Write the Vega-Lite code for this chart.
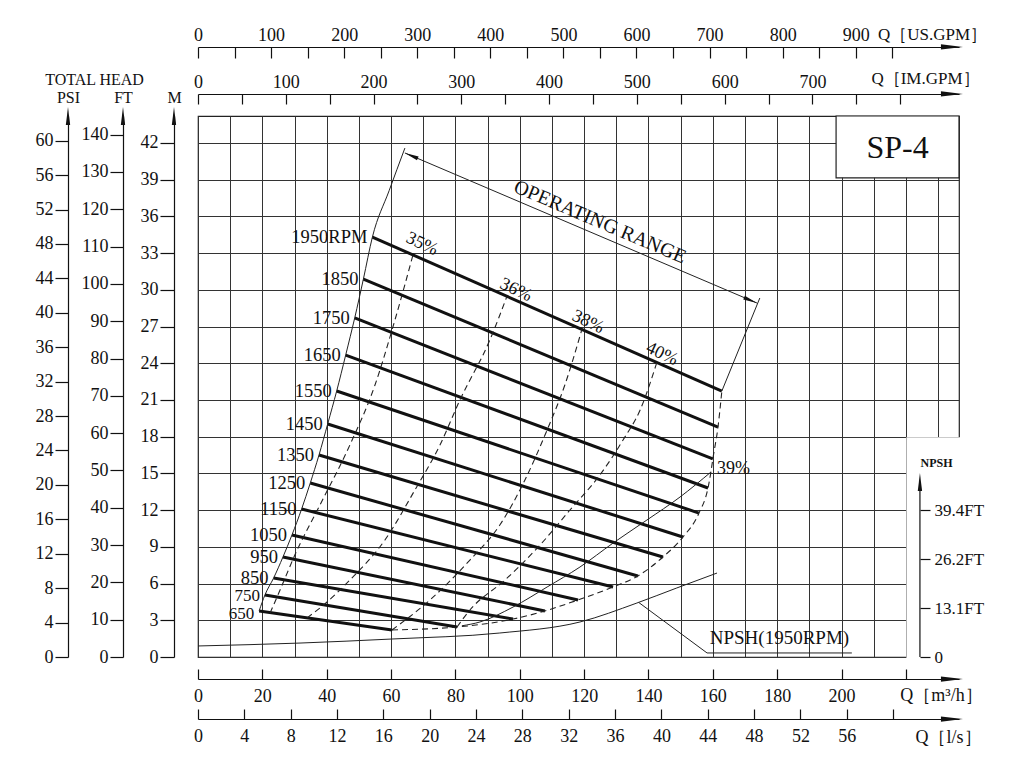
{
  "$schema": "https://vega.github.io/schema/vega-lite/v6.json",
  "width": 761,
  "height": 541,
  "autosize": {"type": "none"},
  "padding": {"left": 198, "top": 116, "right": 65, "bottom": 126},
  "background": "white",
  "config": {
    "view": {"stroke": "#222", "strokeWidth": 1.2},
    "axis": {"labelFont": "Liberation Serif", "titleFont": "Liberation Serif", "labelFontSize": 18, "titleFontSize": 16, "titleFontWeight": "normal", "labelColor": "#111", "titleColor": "#111", "domainColor": "#111", "tickColor": "#111", "domainWidth": 1.2, "tickWidth": 1.2, "grid": false, "labelOverlap": false, "labelFlush": false, "labelBound": false},
    "text": {"font": "Liberation Serif", "color": "#111"}
  },
  "datasets": {
    "speed": [
      {"rpm": "1950", "Q": 54.2, "H": 34.31}, {"rpm": "1950", "Q": 162.8, "H": 21.73},
      {"rpm": "1850", "Q": 51.4, "H": 30.88}, {"rpm": "1850", "Q": 161.6, "H": 18.79},
      {"rpm": "1750", "Q": 48.7, "H": 27.70}, {"rpm": "1750", "Q": 160.0, "H": 16.18},
      {"rpm": "1650", "Q": 45.9, "H": 24.67}, {"rpm": "1650", "Q": 158.5, "H": 13.81},
      {"rpm": "1550", "Q": 43.1, "H": 21.73}, {"rpm": "1550", "Q": 155.7, "H": 11.76},
      {"rpm": "1450", "Q": 40.3, "H": 19.04}, {"rpm": "1450", "Q": 150.7, "H": 9.80},
      {"rpm": "1350", "Q": 37.6, "H": 16.50}, {"rpm": "1350", "Q": 144.5, "H": 8.17},
      {"rpm": "1250", "Q": 34.9, "H": 14.22}, {"rpm": "1250", "Q": 136.7, "H": 6.62},
      {"rpm": "1150", "Q": 32.2, "H": 12.09}, {"rpm": "1150", "Q": 129.0, "H": 5.72},
      {"rpm": "1050", "Q": 29.2, "H": 9.97}, {"rpm": "1050", "Q": 118.1, "H": 4.66},
      {"rpm": "950", "Q": 26.4, "H": 8.17}, {"rpm": "950", "Q": 107.8, "H": 3.76},
      {"rpm": "850", "Q": 23.5, "H": 6.45}, {"rpm": "850", "Q": 97.9, "H": 3.10},
      {"rpm": "750", "Q": 20.8, "H": 5.07}, {"rpm": "750", "Q": 80.5, "H": 2.45},
      {"rpm": "650", "Q": 19.0, "H": 3.76}, {"rpm": "650", "Q": 60.3, "H": 2.21}
    ],
    "rpmLabels": [
      {"t": "1950RPM", "Q": 54.2, "H": 34.31}, {"t": "1850", "Q": 51.4, "H": 30.88},
      {"t": "1750", "Q": 48.7, "H": 27.70}, {"t": "1650", "Q": 45.9, "H": 24.67},
      {"t": "1550", "Q": 43.1, "H": 21.73}, {"t": "1450", "Q": 40.3, "H": 19.04},
      {"t": "1350", "Q": 37.6, "H": 16.50}, {"t": "1250", "Q": 34.9, "H": 14.22},
      {"t": "1150", "Q": 32.2, "H": 12.09}, {"t": "1050", "Q": 29.2, "H": 9.97},
      {"t": "950", "Q": 26.4, "H": 8.17}, {"t": "850", "Q": 23.5, "H": 6.45},
      {"t": "750", "Q": 20.8, "H": 5.07}, {"t": "650", "Q": 19.0, "H": 3.76}
    ],
    "eff": [
      {"c": "35", "Q": 22.4, "H": 3.59}, {"c": "35", "Q": 25.5, "H": 5.47}, {"c": "35", "Q": 30.1, "H": 8.33}, {"c": "35", "Q": 37.9, "H": 12.42}, {"c": "35", "Q": 47.2, "H": 17.32}, {"c": "35", "Q": 55.0, "H": 22.22}, {"c": "35", "Q": 61.2, "H": 27.53}, {"c": "35", "Q": 66.8, "H": 32.84},
      {"c": "36", "Q": 33.9, "H": 3.2}, {"c": "36", "Q": 37.9, "H": 4.0}, {"c": "36", "Q": 47.2, "H": 6.29}, {"c": "36", "Q": 58.1, "H": 9.56}, {"c": "36", "Q": 67.4, "H": 13.64}, {"c": "36", "Q": 75.2, "H": 17.32}, {"c": "36", "Q": 81.4, "H": 21.0}, {"c": "36", "Q": 90.7, "H": 25.9}, {"c": "36", "Q": 96.0, "H": 29.46},
      {"c": "38", "Q": 60.3, "H": 2.21}, {"c": "38", "Q": 72.1, "H": 4.66}, {"c": "38", "Q": 84.5, "H": 7.92}, {"c": "38", "Q": 93.8, "H": 10.78}, {"c": "38", "Q": 101.6, "H": 14.46}, {"c": "38", "Q": 108.5, "H": 18.55}, {"c": "38", "Q": 114.0, "H": 22.22}, {"c": "38", "Q": 119.3, "H": 26.76},
      {"c": "40", "Q": 80.5, "H": 2.45}, {"c": "40", "Q": 84.5, "H": 3.84}, {"c": "40", "Q": 95.4, "H": 6.29}, {"c": "40", "Q": 106.3, "H": 9.15}, {"c": "40", "Q": 115.6, "H": 12.01}, {"c": "40", "Q": 124.9, "H": 14.87}, {"c": "40", "Q": 132.1, "H": 17.73}, {"c": "40", "Q": 137.4, "H": 20.18}, {"c": "40", "Q": 142.6, "H": 24.07}
    ],
    "bound": [
      {"Q": 60.3, "H": 2.21}, {"Q": 80.5, "H": 2.45}, {"Q": 97.9, "H": 3.10}, {"Q": 107.8, "H": 3.76}, {"Q": 118.1, "H": 4.66}, {"Q": 129.0, "H": 5.72}, {"Q": 136.7, "H": 6.62}, {"Q": 144.5, "H": 8.17}, {"Q": 150.7, "H": 9.80}, {"Q": 155.7, "H": 11.76}, {"Q": 158.5, "H": 13.81}, {"Q": 159.4, "H": 15.11}, {"Q": 160.0, "H": 16.18}, {"Q": 161.6, "H": 18.79}, {"Q": 162.8, "H": 21.73}
    ],
    "thin": [
      {"c": "left", "Q": 19.0, "H": 3.76}, {"c": "left", "Q": 20.8, "H": 5.07}, {"c": "left", "Q": 23.5, "H": 6.45}, {"c": "left", "Q": 26.4, "H": 8.17}, {"c": "left", "Q": 29.2, "H": 9.97}, {"c": "left", "Q": 32.2, "H": 12.09}, {"c": "left", "Q": 34.9, "H": 14.22}, {"c": "left", "Q": 37.6, "H": 16.50}, {"c": "left", "Q": 40.3, "H": 19.04}, {"c": "left", "Q": 43.1, "H": 21.73}, {"c": "left", "Q": 45.9, "H": 24.67}, {"c": "left", "Q": 48.7, "H": 27.70}, {"c": "left", "Q": 51.4, "H": 30.88}, {"c": "left", "Q": 54.2, "H": 34.31}, {"c": "left", "Q": 59.4, "H": 38.1}, {"c": "left", "Q": 64.3, "H": 41.58},
      {"c": "npsh", "Q": 0, "H": 0.9}, {"c": "npsh", "Q": 31.7, "H": 1.14}, {"c": "npsh", "Q": 60.3, "H": 1.47}, {"c": "npsh", "Q": 93.8, "H": 1.96}, {"c": "npsh", "Q": 118.7, "H": 2.86}, {"c": "npsh", "Q": 136.4, "H": 4.41}, {"c": "npsh", "Q": 148.8, "H": 5.64}, {"c": "npsh", "Q": 161.3, "H": 6.86},
      {"c": "e39", "Q": 82.0, "H": 2.55}, {"c": "e39", "Q": 87.6, "H": 2.86}, {"c": "e39", "Q": 97.9, "H": 4.08}, {"c": "e39", "Q": 108.5, "H": 5.72}, {"c": "e39", "Q": 118.7, "H": 7.35}, {"c": "e39", "Q": 129.0, "H": 9.31}, {"c": "e39", "Q": 139.5, "H": 11.19}, {"c": "e39", "Q": 149.8, "H": 13.07}, {"c": "e39", "Q": 159.4, "H": 15.11}
    ],
    "thinLinear": [
      {"c": "rightext", "Q": 162.8, "H": 21.73}, {"c": "rightext", "Q": 174.6, "H": 29.33},
      {"c": "dim", "Q": 64.3, "H": 41.18}, {"c": "dim", "Q": 173.7, "H": 28.92},
      {"c": "leader", "Q": 137.0, "H": 4.45}, {"c": "leader", "Q": 158.2, "H": 0.33}, {"c": "leader", "Q": 203.2, "H": 0.33}
    ],
    "arrowsUp": [{"Q": -7.46, "H": 44.2}, {"Q": -23.31, "H": 44.2}, {"Q": -40.4, "H": 44.2}, {"Q": 224.36, "H": 14.3}],
    "arrowsRight": [{"Q": 234.3, "H": 49.84}, {"Q": 234.3, "H": 46.0}, {"Q": 234.3, "H": -1.8}, {"Q": 234.3, "H": -5.07}],
    "effLabels": [{"t": "35%", "Q": 69.6, "H": 33.74}, {"t": "36%", "Q": 98.8, "H": 29.98}, {"t": "38%", "Q": 121.2, "H": 27.37}, {"t": "40%", "Q": 144.2, "H": 24.75}]
  },
  "layer": [
    {
      "data": {"values": [{"gq": 0, "gh": 0}]},
      "mark": {"type": "point", "opacity": 0},
      "encoding": {
        "x": {"field": "gq", "type": "quantitative", "scale": {"domain": [0, 236.5], "nice": false, "zero": false},
          "axis": {"orient": "bottom", "values": [0,10,20,30,40,50,60,70,80,90,100,110,120,130,140,150,160,170,180,190,200,210,220,230], "grid": true, "gridColor": "#333", "gridWidth": 1, "gridOpacity": 1, "ticks": false, "labels": false, "domain": false, "title": null, "zindex": 0}},
        "y": {"field": "gh", "type": "quantitative", "scale": {"domain": [0, 44.2], "nice": false, "zero": false},
          "axis": {"orient": "left", "values": [0,3,6,9,12,15,18,21,24,27,30,33,36,39,42], "grid": true, "gridColor": "#333", "gridWidth": 1, "gridOpacity": 1, "ticks": false, "labels": false, "domain": false, "title": null, "zindex": 0}}
      }
    },
    {
      "data": {"values": [{"mq": 0, "mh": 0}]},
      "mark": {"type": "point", "opacity": 0},
      "encoding": {
        "x": {"field": "mq", "type": "quantitative", "scale": {"domain": [0, 236.5], "nice": false, "zero": false},
          "axis": {"orient": "bottom", "offset": 22, "values": [0,20,40,60,80,100,120,140,160,180,200,220], "labelExpr": "datum.value < 220 ? datum.label : ''", "tickSize": -10, "labelPadding": 18, "title": "Q［m³/h］", "titleX": 743, "titleY": 16, "titleAngle": 0, "titleAlign": "center", "titleBaseline": "middle", "titleFontSize": 18, "zindex": 0}},
        "y": {"field": "mh", "type": "quantitative", "scale": {"domain": [0, 44.2], "nice": false, "zero": false},
          "axis": {"orient": "left", "offset": 24, "values": [0,3,6,9,12,15,18,21,24,27,30,33,36,39,42], "tickSize": 14, "labelPadding": 2, "title": "M", "titleX": 0, "titleY": -19, "titleAngle": 0, "titleAlign": "center", "titleBaseline": "middle", "zindex": 0}}
      }
    },
    {
      "layer": [
        {
          "data": {"name": "speed"},
          "mark": {"type": "line", "strokeWidth": 3, "color": "#111"},
          "encoding": {
            "x": {"field": "Q", "type": "quantitative", "scale": {"domain": [0, 236.5], "nice": false, "zero": false}, "axis": null},
            "y": {"field": "H", "type": "quantitative", "scale": {"domain": [0, 44.2], "nice": false, "zero": false}, "axis": null},
            "detail": {"field": "rpm"}
          }
        },
        {
          "data": {"values": [{"Q": 220.15, "Q2": 237.3, "H": -0.4, "H2": 17.95}]},
          "mark": {"type": "rect", "fill": "white", "strokeWidth": 0},
          "encoding": {
            "x": {"field": "Q", "type": "quantitative", "axis": null},
            "x2": {"field": "Q2"},
            "y": {"field": "H", "type": "quantitative", "axis": null},
            "y2": {"field": "H2"}
          }
        },
        {
          "data": {"values": [{"Q": 198.3, "Q2": 236.5, "H": 39.15, "H2": 44.2}]},
          "mark": {"type": "rect", "fill": "white", "stroke": "#222", "strokeWidth": 1.2},
          "encoding": {
            "x": {"field": "Q", "type": "quantitative", "axis": null},
            "x2": {"field": "Q2"},
            "y": {"field": "H", "type": "quantitative", "axis": null},
            "y2": {"field": "H2"}
          }
        },
        {
          "data": {"values": [{"t": "SP-4", "Q": 217.4, "H": 41.6}]},
          "mark": {"type": "text", "fontSize": 32, "align": "center", "baseline": "middle"},
          "encoding": {
            "x": {"field": "Q", "type": "quantitative", "axis": null},
            "y": {"field": "H", "type": "quantitative", "axis": null},
            "text": {"field": "t"}
          }
        },
        {
          "data": {"name": "eff"},
          "mark": {"type": "line", "strokeWidth": 1.1, "strokeDash": [6, 4], "color": "#222", "interpolate": "monotone"},
          "encoding": {
            "x": {"field": "Q", "type": "quantitative", "axis": null},
            "y": {"field": "H", "type": "quantitative", "axis": null},
            "detail": {"field": "c"}
          }
        },
        {
          "data": {"name": "bound"},
          "mark": {"type": "line", "strokeWidth": 1.1, "strokeDash": [6, 4], "color": "#222", "interpolate": "monotone"},
          "encoding": {
            "x": {"field": "Q", "type": "quantitative", "axis": null},
            "y": {"field": "H", "type": "quantitative", "axis": null}
          }
        },
        {
          "data": {"name": "thin"},
          "mark": {"type": "line", "strokeWidth": 1, "color": "#222", "interpolate": "monotone"},
          "encoding": {
            "x": {"field": "Q", "type": "quantitative", "axis": null},
            "y": {"field": "H", "type": "quantitative", "axis": null},
            "detail": {"field": "c"}
          }
        },
        {
          "data": {"name": "thinLinear"},
          "mark": {"type": "line", "strokeWidth": 1, "color": "#222"},
          "encoding": {
            "x": {"field": "Q", "type": "quantitative", "axis": null},
            "y": {"field": "H", "type": "quantitative", "axis": null},
            "detail": {"field": "c"}
          }
        },
        {
          "data": {"values": [{"Q": 224.36, "H": 0, "H2": 13.6}]},
          "mark": {"type": "rule", "strokeWidth": 1.2, "color": "#111"},
          "encoding": {
            "x": {"field": "Q", "type": "quantitative", "axis": null},
            "y": {"field": "H", "type": "quantitative", "axis": null},
            "y2": {"field": "H2"}
          }
        },
        {
          "data": {"name": "arrowsUp"},
          "mark": {"type": "point", "shape": "M1,0L-1,-0.24L-1,0.24Z", "filled": true, "fill": "#111", "strokeWidth": 0, "size": 324, "angle": 270, "opacity": 1},
          "encoding": {
            "x": {"field": "Q", "type": "quantitative", "axis": null},
            "y": {"field": "H", "type": "quantitative", "axis": null}
          }
        },
        {
          "data": {"name": "arrowsRight"},
          "mark": {"type": "point", "shape": "M1,0L-1,-0.24L-1,0.24Z", "filled": true, "fill": "#111", "strokeWidth": 0, "size": 484, "angle": 0, "opacity": 1},
          "encoding": {
            "x": {"field": "Q", "type": "quantitative", "axis": null},
            "y": {"field": "H", "type": "quantitative", "axis": null}
          }
        },
        {
          "data": {"values": [{"Q": 171.7, "H": 29.14}]},
          "mark": {"type": "point", "shape": "M1,0L-1,-0.3L-1,0.3Z", "filled": true, "fill": "#111", "strokeWidth": 0, "size": 196, "angle": 23, "opacity": 1},
          "encoding": {
            "x": {"field": "Q", "type": "quantitative", "axis": null},
            "y": {"field": "H", "type": "quantitative", "axis": null}
          }
        },
        {
          "data": {"values": [{"Q": 66.3, "H": 40.96}]},
          "mark": {"type": "point", "shape": "M1,0L-1,-0.3L-1,0.3Z", "filled": true, "fill": "#111", "strokeWidth": 0, "size": 196, "angle": 203, "opacity": 1},
          "encoding": {
            "x": {"field": "Q", "type": "quantitative", "axis": null},
            "y": {"field": "H", "type": "quantitative", "axis": null}
          }
        },
        {
          "data": {"name": "rpmLabels"},
          "transform": [{"filter": "datum.t != '750' && datum.t != '650'"}],
          "mark": {"type": "text", "fontSize": 18.5, "align": "right", "baseline": "middle", "dx": -5},
          "encoding": {
            "x": {"field": "Q", "type": "quantitative", "axis": null},
            "y": {"field": "H", "type": "quantitative", "axis": null},
            "text": {"field": "t"}
          }
        },
        {
          "data": {"name": "rpmLabels"},
          "transform": [{"filter": "datum.t == '750'"}],
          "mark": {"type": "text", "fontSize": 17, "align": "right", "baseline": "middle", "dx": -5, "dy": 1},
          "encoding": {
            "x": {"field": "Q", "type": "quantitative", "axis": null},
            "y": {"field": "H", "type": "quantitative", "axis": null},
            "text": {"field": "t"}
          }
        },
        {
          "data": {"name": "rpmLabels"},
          "transform": [{"filter": "datum.t == '650'"}],
          "mark": {"type": "text", "fontSize": 17, "align": "right", "baseline": "middle", "dx": -5, "dy": 3},
          "encoding": {
            "x": {"field": "Q", "type": "quantitative", "axis": null},
            "y": {"field": "H", "type": "quantitative", "axis": null},
            "text": {"field": "t"}
          }
        },
        {
          "data": {"name": "effLabels"},
          "mark": {"type": "text", "fontSize": 18, "align": "center", "baseline": "middle", "angle": 25},
          "encoding": {
            "x": {"field": "Q", "type": "quantitative", "axis": null},
            "y": {"field": "H", "type": "quantitative", "axis": null},
            "text": {"field": "t"}
          }
        },
        {
          "data": {"values": [{"t": "39%", "Q": 161.3, "H": 15.36}]},
          "mark": {"type": "text", "fontSize": 18, "align": "left", "baseline": "middle"},
          "encoding": {
            "x": {"field": "Q", "type": "quantitative", "axis": null},
            "y": {"field": "H", "type": "quantitative", "axis": null},
            "text": {"field": "t"}
          }
        },
        {
          "data": {"values": [{"t": "OPERATING RANGE", "Q": 124.9, "H": 35.54}]},
          "mark": {"type": "text", "fontSize": 20, "align": "center", "baseline": "middle", "angle": 23},
          "encoding": {
            "x": {"field": "Q", "type": "quantitative", "axis": null},
            "y": {"field": "H", "type": "quantitative", "axis": null},
            "text": {"field": "t"}
          }
        },
        {
          "data": {"values": [{"t": "NPSH(1950RPM)", "Q": 180.7, "H": 1.55}]},
          "mark": {"type": "text", "fontSize": 19, "align": "center", "baseline": "middle"},
          "encoding": {
            "x": {"field": "Q", "type": "quantitative", "axis": null},
            "y": {"field": "H", "type": "quantitative", "axis": null},
            "text": {"field": "t"}
          }
        }
      ]
    },
    {
      "data": {"values": [{"ls": 0, "v": 0}]},
      "mark": {"type": "point", "opacity": 0},
      "encoding": {
        "x": {"field": "ls", "type": "quantitative", "scale": {"domain": [0, 65.69], "nice": false, "zero": false},
          "axis": {"orient": "bottom", "offset": 62, "values": [0,4,8,12,16,20,24,28,32,36,40,44,48,52,56,60], "labelExpr": "datum.value < 60 ? datum.label : ''", "tickSize": -10, "labelPadding": 18, "title": "Q［l/s］", "titleX": 750, "titleY": 18, "titleAngle": 0, "titleAlign": "center", "titleBaseline": "middle", "titleFontSize": 18, "zindex": 0}},
        "y": {"field": "v", "type": "quantitative", "scale": {"domain": [0, 1]},
          "axis": {"orient": "left", "offset": 104, "ticks": false, "labels": false, "domain": false, "title": "TOTAL HEAD", "titleX": 0, "titleY": -37, "titleAngle": 0, "titleAlign": "center", "titleBaseline": "middle", "zindex": 0}}
      }
    },
    {
      "data": {"values": [{"us": 0}]},
      "mark": {"type": "point", "opacity": 0},
      "encoding": {
        "x": {"field": "us", "type": "quantitative", "scale": {"domain": [0, 1041.3], "nice": false, "zero": false},
          "axis": {"orient": "top", "offset": 69, "values": [0,50,100,150,200,250,300,350,400,450,500,550,600,650,700,750,800,850,900,950], "labelExpr": "datum.value % 100 === 0 ? datum.label : ''", "tickSize": -11, "labelPadding": 14, "title": "Q［US.GPM］", "titleX": 734, "titleY": -13, "titleAngle": 0, "titleAlign": "center", "titleBaseline": "middle", "titleFontSize": 17, "zindex": 0}}
      }
    },
    {
      "data": {"values": [{"im": 0}]},
      "mark": {"type": "point", "opacity": 0},
      "encoding": {
        "x": {"field": "im", "type": "quantitative", "scale": {"domain": [0, 867.0], "nice": false, "zero": false},
          "axis": {"orient": "top", "offset": 22, "values": [0,50,100,150,200,250,300,350,400,450,500,550,600,650,700,750,800], "labelExpr": "datum.value % 100 === 0 && datum.value < 800 ? datum.label : ''", "tickSize": -10, "labelPadding": 13, "title": "Q［IM.GPM］", "titleX": 727, "titleY": -16, "titleAngle": 0, "titleAlign": "center", "titleBaseline": "middle", "titleFontSize": 17, "zindex": 0}}
      }
    },
    {
      "data": {"values": [{"ft": 0}]},
      "mark": {"type": "point", "opacity": 0},
      "encoding": {
        "y": {"field": "ft", "type": "quantitative", "scale": {"domain": [0, 145.01], "nice": false, "zero": false},
          "axis": {"orient": "left", "offset": 75, "values": [0,10,20,30,40,50,60,70,80,90,100,110,120,130,140], "tickSize": 13, "labelPadding": 2, "title": "FT", "titleX": 0, "titleY": -19, "titleAngle": 0, "titleAlign": "center", "titleBaseline": "middle", "zindex": 0}}
      }
    },
    {
      "data": {"values": [{"psi": 0}]},
      "mark": {"type": "point", "opacity": 0},
      "encoding": {
        "y": {"field": "psi", "type": "quantitative", "scale": {"domain": [0, 62.867], "nice": false, "zero": false},
          "axis": {"orient": "left", "offset": 130, "values": [0,4,8,12,16,20,24,28,32,36,40,44,48,52,56,60], "tickSize": 13, "labelPadding": 2, "title": "PSI", "titleX": 0, "titleY": -19, "titleAngle": 0, "titleAlign": "center", "titleBaseline": "middle", "zindex": 0}}
      }
    },
    {
      "data": {"values": [{"np": 0}]},
      "mark": {"type": "point", "opacity": 0},
      "encoding": {
        "y": {"field": "np", "type": "quantitative", "scale": {"domain": [0, 44.2], "nice": false, "zero": false},
          "axis": {"orient": "right", "offset": -39, "values": [0, 4, 8, 12], "labelExpr": "datum.value == 0 ? '0' : datum.value == 4 ? '13.1FT' : datum.value == 8 ? '26.2FT' : '39.4FT'", "tickSize": 10, "labelPadding": 4, "labelFontSize": 17, "domain": false, "title": "NPSH", "titleX": 16, "titleY": 346, "titleAngle": 0, "titleAlign": "center", "titleBaseline": "middle", "titleFontSize": 12, "titleFontWeight": "bold", "zindex": 1}}
      }
    }
  ],
  "resolve": {"scale": {"x": "independent", "y": "independent"}, "axis": {"x": "independent", "y": "independent"}}
}
